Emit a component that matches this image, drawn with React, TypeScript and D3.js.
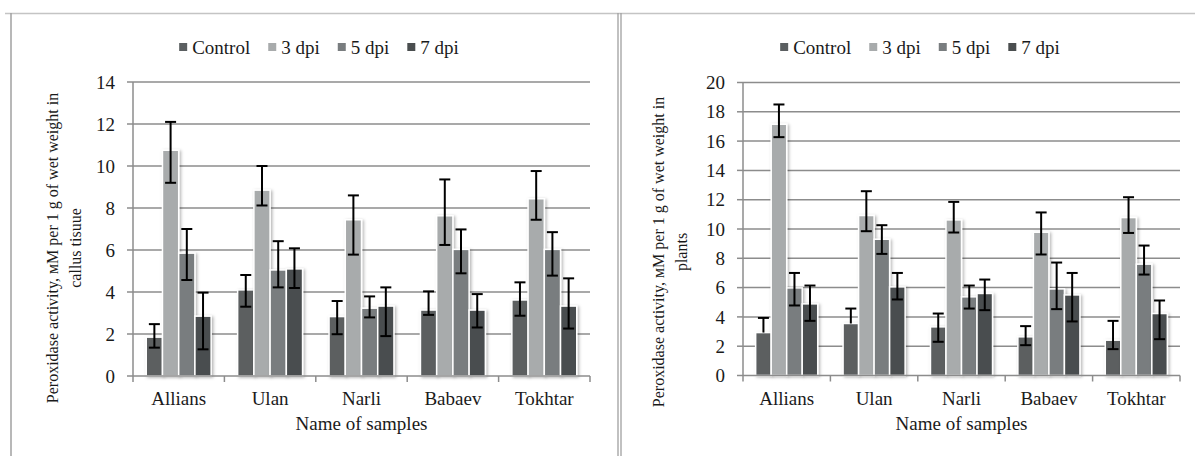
import React, { useEffect, useRef } from 'react';
import * as d3 from 'd3';

const samples = ['Allians', 'Ulan', 'Narli', 'Babaev', 'Tokhtar'];
const series = ['Control', '3 dpi', '5 dpi', '7 dpi'];
const seriesColors = ['#5b5f61', '#a8abac', '#797d7f', '#4a4e4f'];

// callus tissue: one row per series, one value per sample
const callusMean = [
  [1.85, 4.1, 2.83, 3.14, 3.62],
  [10.75, 8.85, 7.44, 7.63, 8.44],
  [5.85, 5.05, 3.23, 6.03, 6.03],
  [2.85, 5.1, 3.33, 3.14, 3.33],
];
const callusHi = [
  [2.47, 4.81, 3.57, 4.03, 4.46],
  [12.1, 10.0, 8.6, 9.36, 9.76],
  [7.0, 6.42, 3.79, 6.98, 6.85],
  [3.97, 6.08, 4.22, 3.9, 4.65],
];
const callusLo = [
  [1.35, 3.3, 1.99, 2.91, 2.87],
  [9.2, 8.12, 5.78, 6.24, 7.44],
  [4.57, 4.22, 2.79, 4.89, 4.78],
  [1.27, 4.19, 1.9, 2.31, 2.26],
];

// plants
const plantsMean = [
  [2.93, 3.55, 3.32, 2.64, 2.41],
  [17.15, 10.92, 10.62, 9.78, 10.78],
  [5.98, 9.3, 5.37, 5.91, 7.6],
  [4.89, 6.05, 5.6, 5.5, 4.23],
];
const plantsHi = [
  [3.93, 4.57, 4.23, 3.37, 3.73],
  [18.5, 12.58, 11.85, 11.13, 12.17],
  [7.0, 10.26, 6.14, 7.71, 8.87],
  [6.14, 7.0, 6.55, 7.0, 5.12],
];
const plantsLo = [
  [2.93, 3.55, 2.3, 2.07, 1.8],
  [16.27, 9.85, 9.76, 8.26, 9.73],
  [4.78, 8.3, 4.57, 4.53, 6.89],
  [3.73, 5.19, 4.46, 3.69, 2.48],
];

const FONT = 'Liberation Serif, DejaVu Serif, serif';
const TEXT = '#1a1a1a';
const GRID = '#8c8c8c';

const BarPanel = ({ left, right, top, bottom, yMax, mean, hi, lo, yTitle, titleX, titleY, legendX }) => {
  const gRef = useRef(null);

  useEffect(() => {
    const g = d3.select(gRef.current);
    g.selectAll('*').remove();

    const x0 = d3.scaleBand().domain(samples).range([left, right]).paddingInner(0.29).paddingOuter(0.145);
    const x1 = d3.scaleBand().domain(series).range([0, x0.bandwidth()]);
    const y = d3.scaleLinear().domain([0, yMax]).range([bottom, top]);
    const ticks = d3.range(0, yMax + 1, 2);
    const step = (right - left) / samples.length;

    // gridlines
    g.append('g').selectAll('line')
      .data(ticks.filter(t => t > 0))
      .join('line')
      .attr('x1', left).attr('x2', right)
      .attr('y1', d => y(d)).attr('y2', d => y(d))
      .attr('stroke', GRID).attr('stroke-width', 1.5);

    // y axis + ticks
    g.append('line')
      .attr('x1', left).attr('x2', left).attr('y1', top).attr('y2', bottom)
      .attr('stroke', GRID).attr('stroke-width', 1.5);
    g.append('g').selectAll('line')
      .data(ticks)
      .join('line')
      .attr('x1', left - 6).attr('x2', left)
      .attr('y1', d => y(d)).attr('y2', d => y(d))
      .attr('stroke', GRID).attr('stroke-width', 1.5);
    g.append('g').selectAll('text')
      .data(ticks)
      .join('text')
      .attr('x', left - 18).attr('y', d => y(d))
      .attr('dy', '0.35em')
      .attr('text-anchor', 'end')
      .attr('font-family', FONT).attr('font-size', 19).attr('fill', TEXT)
      .text(d => d);

    // bars
    const groups = g.append('g').selectAll('g')
      .data(series)
      .join('g')
      .attr('fill', (d, i) => seriesColors[i])
      .attr('filter', 'url(#barShadow)');
    groups.selectAll('rect')
      .data((s, si) => samples.map((name, j) => ({ name, s, v: mean[si][j] })))
      .join('rect')
      .attr('x', d => x0(d.name) + x1(d.s))
      .attr('width', x1.bandwidth())
      .attr('y', d => y(d.v))
      .attr('height', d => y(0) - y(d.v))
      .attr('stroke', '#ffffff').attr('stroke-width', 1.5);

    // x axis
    g.append('line')
      .attr('x1', left).attr('x2', right).attr('y1', bottom).attr('y2', bottom)
      .attr('stroke', GRID).attr('stroke-width', 1.5);
    g.append('g').selectAll('line')
      .data(d3.range(samples.length + 1))
      .join('line')
      .attr('x1', i => left + i * step).attr('x2', i => left + i * step)
      .attr('y1', bottom).attr('y2', bottom + 6)
      .attr('stroke', GRID).attr('stroke-width', 1.5);
    g.append('g').selectAll('text')
      .data(samples)
      .join('text')
      .attr('x', d => x0(d) + x0.bandwidth() / 2)
      .attr('y', bottom + 29)
      .attr('text-anchor', 'middle')
      .attr('font-family', FONT).attr('font-size', 19).attr('fill', TEXT)
      .text(d => d);

    // error bars
    const errs = [];
    series.forEach((s, si) => samples.forEach((name, j) => {
      errs.push({ cx: x0(name) + x1(s) + x1.bandwidth() / 2, v: mean[si][j], hi: hi[si][j], lo: lo[si][j] });
    }));
    const eb = g.append('g').attr('stroke', '#000').attr('stroke-width', 2);
    eb.selectAll('.stem').data(errs).join('line')
      .attr('x1', d => d.cx).attr('x2', d => d.cx)
      .attr('y1', d => y(d.hi)).attr('y2', d => y(d.lo));
    eb.selectAll('.capHi').data(errs).join('line')
      .attr('x1', d => d.cx - 5.5).attr('x2', d => d.cx + 5.5)
      .attr('y1', d => y(d.hi)).attr('y2', d => y(d.hi));
    eb.selectAll('.capLo').data(errs.filter(d => d.lo < d.v)).join('line')
      .attr('x1', d => d.cx - 5.5).attr('x2', d => d.cx + 5.5)
      .attr('y1', d => y(d.lo)).attr('y2', d => y(d.lo));

    // axis titles
    g.append('text')
      .attr('x', (left + right) / 2).attr('y', bottom + 54)
      .attr('text-anchor', 'middle')
      .attr('font-family', FONT).attr('font-size', 19).attr('fill', TEXT)
      .text('Name of samples');

    const yt = g.append('text')
      .attr('transform', `translate(${titleX},${titleY}) rotate(-90)`)
      .attr('text-anchor', 'middle')
      .attr('font-family', FONT).attr('font-size', 16).attr('fill', TEXT);
    yTitle.forEach((line, i) => {
      yt.append('tspan').attr('x', 0).attr('y', i * 23).text(line);
    });

    // legend
    const legend = g.append('g');
    let cursor = 0;
    series.forEach((s, i) => {
      legend.append('rect')
        .attr('x', cursor).attr('y', -4).attr('width', 8).attr('height', 8)
        .attr('fill', seriesColors[i]);
      const t = legend.append('text')
        .attr('x', cursor + 13).attr('y', 0).attr('dy', '0.35em')
        .attr('font-family', FONT).attr('font-size', 19).attr('fill', TEXT)
        .text(s);
      cursor += 13 + t.node().getComputedTextLength() + 18;
    });
    const legendWidth = cursor - 18;
    legend.attr('transform', `translate(${legendX - legendWidth / 2},47)`);
  }, [left, right, top, bottom, yMax, mean, hi, lo, yTitle, titleX, titleY, legendX]);

  return <g ref={gRef} />;
};

const App = () => {
  return (
    <svg width={1195} height={456} style={{ position: 'absolute', left: 0, top: 0, background: '#fff' }}>
      <defs>
        <filter id="barShadow" x="-20%" y="-10%" width="150%" height="130%">
          <feDropShadow dx="1.5" dy="1" stdDeviation="1.5" floodColor="#000" floodOpacity="0.3" />
        </filter>
      </defs>
      <rect width={1195} height={456} fill="#fff" />
      {/* frames */}
      <line x1={5} x2={1195} y1={13.5} y2={13.5} stroke="#c4c4c4" strokeWidth={1.5} />
      <line x1={11} x2={11} y1={13} y2={456} stroke="#a0a0a0" strokeWidth={1.5} />
      <line x1={618} x2={618} y1={13} y2={456} stroke="#a0a0a0" strokeWidth={1.3} />
      <line x1={621} x2={621} y1={13} y2={456} stroke="#a0a0a0" strokeWidth={1.3} />
      <BarPanel
        left={133} right={590} top={82} bottom={376} yMax={14}
        mean={callusMean} hi={callusHi} lo={callusLo}
        yTitle={['Peroxidase activity, мМ per 1 g of wet weight in', 'callus tisuue']}
        titleX={58} titleY={248} legendX={319}
      />
      <BarPanel
        left={743} right={1180} top={82.5} bottom={375.5} yMax={20}
        mean={plantsMean} hi={plantsHi} lo={plantsLo}
        yTitle={['Peroxidase activity, мМ per 1 g of wet weight in', 'plants']}
        titleX={664} titleY={252} legendX={920}
      />
    </svg>
  );
};

export default App;
